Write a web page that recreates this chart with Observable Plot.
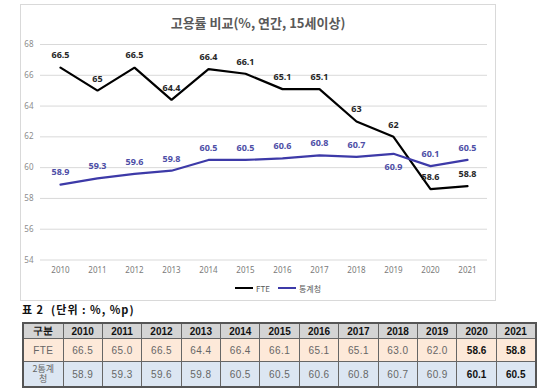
<!DOCTYPE html>
<html><head><meta charset="utf-8">
<script src="https://cdn.jsdelivr.net/npm/d3@7"></script>
<script src="https://cdn.jsdelivr.net/npm/@observablehq/plot@0.6"></script>
<style>
body{margin:0;background:#fff;width:559px;height:392px;overflow:hidden;position:relative;font-family:"Noto Sans","Noto Sans CJK KR",sans-serif;}
#box{position:absolute;left:20px;top:4px;width:474px;height:295px;border:1px solid #d9d9d9;}
#title{position:absolute;left:20px;top:13px;width:476px;text-align:center;font-size:13px;font-weight:bold;color:#595959;font-family:"Noto Sans CJK KR","Noto Sans",sans-serif;white-space:nowrap;}
#chart{position:absolute;left:0;top:0;}
#legend{position:absolute;left:235px;top:282px;height:12px;font-size:8px;color:#595959;display:flex;align-items:center;font-family:"Noto Sans CJK KR","Noto Sans",sans-serif;}
#legend .sw{display:inline-block;width:18px;height:2.5px;margin-right:3px;}
#legend .it{display:flex;align-items:center;margin-right:8px;}
#ttitle{position:absolute;left:22px;top:301px;font-size:11px;font-weight:bold;color:#111;font-family:"Noto Sans CJK KR",sans-serif;white-space:pre;letter-spacing:1px;}
#tbl{position:absolute;left:22px;top:322px;border-collapse:collapse;border:2px solid #555;font-family:"Liberation Sans",Arial,sans-serif;table-layout:fixed;}
#tbl td{border:1px solid #666;text-align:center;padding:0;font-size:10px;color:#666;letter-spacing:0.4px;}
#tbl tr.h td{background:#d4d4d4;color:#111;font-weight:bold;height:13px;letter-spacing:0;}
#tbl tr.f td{background:#fde9d9;height:22px;}
#tbl tr.k td{background:#dce6f2;height:24px;}
#tbl td.b{font-weight:bold;color:#111;letter-spacing:0;}
#tbl td.n{font-family:"Noto Sans CJK KR",sans-serif;line-height:10px;font-size:9px;padding:0 8px;word-break:break-all;letter-spacing:0;}
</style>
</head><body>
<div id="box"></div>
<div id="chart"></div>
<div id="title">고용률 비교(%, 연간, 15세이상)</div>
<div id="legend"></div>
<div id="ttitle">표 2  (단위 : %, %p)</div>
<table id="tbl"></table>
<script>
const years = [2010,2011,2012,2013,2014,2015,2016,2017,2018,2019,2020,2021];
const fte = [66.5,65,66.5,64.4,66.4,66.1,65.1,65.1,63,62,58.6,58.8];
const kostat = [58.9,59.3,59.6,59.8,60.5,60.5,60.6,60.8,60.7,60.9,60.1,60.5];
const seriesNames = ["FTE","통계청"];
const rowLabel = ["FTE","2통계청"];
const headerLabel = "구분";
const yTicks = [54,56,58,60,62,64,66,68];
const boldYears = [2020,2021];

const lineColors = ["#000000","#3d3aa8"];
const labelColors = ["#262626","#4e4ea6"];

const data = years.flatMap((yr,i)=>[
  {year:yr, series:seriesNames[0], value:fte[i]},
  {year:yr, series:seriesNames[1], value:kostat[i]}
]);
const below = d => d.series===seriesNames[1] && d.year===2019;

const chart = Plot.plot({
  width:559, height:280,
  marginLeft:40, marginRight:72, marginTop:44, marginBottom:20.5,
  x:{type:"point", domain:years, padding:0.5, label:null},
  y:{domain:[54,68], label:null},
  color:{domain:seriesNames, range:lineColors},
  style:{fontSize:"8px", fontFamily:"'Noto Sans',sans-serif", background:"transparent"},
  marks:[
    Plot.gridY(yTicks,{stroke:"#d9d9d9", strokeOpacity:1}),
    Plot.axisY({ticks:yTicks, tickSize:0, tickPadding:7, fill:"#8c8c8c", label:null}),
    Plot.axisX({tickSize:0, tickPadding:7, fill:"#7a7a7a", label:null, tickFormat:d=>String(d)}),
    Plot.lineY(data,{x:"year", y:"value", stroke:"series", strokeWidth:2.2, strokeLinejoin:"miter"}),
    ...seriesNames.map((s,si)=>Plot.text(data,{
      filter:d=>d.series===s && !below(d), x:"year", y:"value", text:d=>String(d.value),
      dy:-12, fill:labelColors[si], fontWeight:"bold", fontSize:9
    })),
    Plot.text(data,{filter:below, x:"year", y:"value", text:d=>String(d.value),
      dy:13, fill:labelColors[1], fontWeight:"bold", fontSize:9})
  ]
});
document.getElementById("chart").appendChild(chart);

// legend
const leg = document.getElementById("legend");
seriesNames.forEach((s,i)=>{
  const it = document.createElement("span"); it.className="it";
  const sw = document.createElement("span"); sw.className="sw"; sw.style.background=lineColors[i];
  it.appendChild(sw); it.appendChild(document.createTextNode(s));
  leg.appendChild(it);
});

// table
const tbl = document.getElementById("tbl");
const colgroup = document.createElement("colgroup");
const c0 = document.createElement("col"); c0.style.width="40px"; colgroup.appendChild(c0);
years.forEach(()=>{const c=document.createElement("col"); c.style.width="39.4px"; colgroup.appendChild(c);});
tbl.appendChild(colgroup);
const hr = tbl.insertRow(); hr.className="h";
hr.insertCell().textContent = headerLabel;
years.forEach(y=>{hr.insertCell().textContent = y;});
[fte,kostat].forEach((arr,ri)=>{
  const r = tbl.insertRow(); r.className = ri===0?"f":"k";
  const c = r.insertCell(); c.textContent = rowLabel[ri];
  if(ri===1) c.className="n";
  arr.forEach((v,i)=>{
    const cell = r.insertCell(); cell.textContent = v.toFixed(1);
    if(boldYears.includes(years[i])) cell.className="b";
  });
});
</script>
</body></html>
